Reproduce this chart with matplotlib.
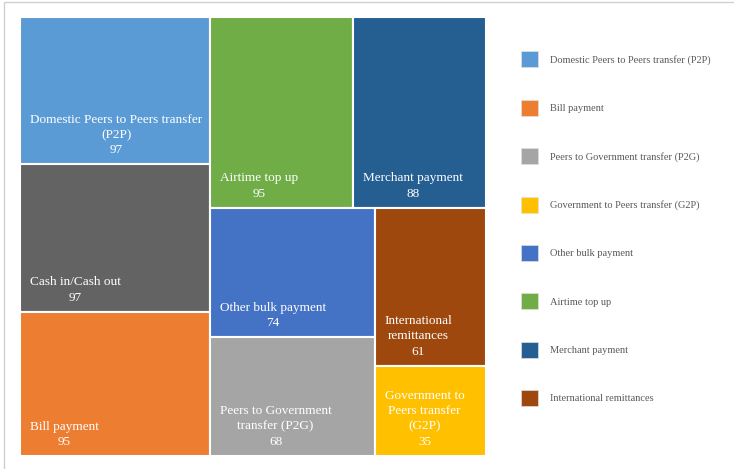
import matplotlib.pyplot as plt
from matplotlib.patches import Rectangle, Patch

labels = ['Domestic Peers to Peers transfer\n(P2P)', 'Cash in/Cash out', 'Bill payment',
          'Airtime top up', 'Merchant payment', 'Other bulk payment',
          'Peers to Government\ntransfer (P2G)', 'International\nremittances',
          'Government to\nPeers transfer\n(G2P)']
values = [97, 97, 95, 95, 88, 74, 68, 61, 35]
colors = ['#5B9BD5', '#636363', '#ED7D31', '#70AD47', '#255E91', '#4472C4',
          '#A5A5A5', '#9E480E', '#FFC000']
legend_names = ['Domestic Peers to Peers transfer (P2P)', 'Bill payment',
                'Peers to Government transfer (P2G)', 'Government to Peers transfer (G2P)',
                'Other bulk payment', 'Airtime top up', 'Merchant payment',
                'International remittances']
legend_colors = ['#5B9BD5', '#ED7D31', '#A5A5A5', '#FFC000', '#4472C4', '#70AD47',
                 '#255E91', '#9E480E']

W, H = 466.0, 439.0


def worst(row, side):
    s = sum(row)
    return max(max(side * side * r / (s * s), s * s / (side * side * r)) for r in row)


def layout(areas, x, y, w, h):
    # squarified treemap, returns list of (x, y, w, h); y grows downward
    rects = []
    i = 0
    while i < len(areas):
        side = min(w, h)
        row = [areas[i]]
        j = i + 1
        while j < len(areas) and worst(row + [areas[j]], side) <= worst(row, side):
            row.append(areas[j])
            j += 1
        s = sum(row)
        if w >= h:
            cw = s / h
            yy = y
            for a in row:
                rects.append((x, yy, cw, a / cw))
                yy += a / cw
            x += cw
            w -= cw
        else:
            rh = s / w
            xx = x
            for a in row:
                rects.append((xx, y, a / rh, rh))
                xx += a / rh
            y += rh
            h -= rh
        i = j
    return rects


scale = W * H / sum(values)
rects = layout([v * scale for v in values], 0, 0, W, H)

fig = plt.figure(figsize=(7.34, 4.69), dpi=100)
fig.patches.append(Rectangle((0.006, -0.01), 1.1, 1.005, transform=fig.transFigure,
                             fill=False, edgecolor='#d0d0d0', linewidth=1))
ax = fig.add_axes([20 / 734, 1 - 456 / 469, 466 / 734, 439 / 469])
ax.set_xlim(0, W)
ax.set_ylim(H, 0)
ax.axis('off')

for (x, y, w, h), lab, v, c in zip(rects, labels, values, colors):
    ax.add_patch(Rectangle((x, y), w, h, facecolor=c, edgecolor='white', linewidth=1.5))
    ax.text(x + 10, y + h - 8, lab + '\n' + str(v), ha='left', va='bottom',
            multialignment='center', color='white', fontsize=9.5,
            family='Liberation Serif', linespacing=1.38)

handles = [Patch(facecolor=c, edgecolor='#e0e0e0', linewidth=0.5) for c in legend_colors]
fig.legend(handles, legend_names, loc='upper left', bbox_to_anchor=(512 / 734, 1 - 42 / 469),
           frameon=False, prop={'family': 'Liberation Serif', 'size': 7.5},
           labelcolor='#595959', handlelength=1.55, handleheight=2.0,
           labelspacing=3.1, handletextpad=1.2)

fig.savefig('out.png', dpi=100)
